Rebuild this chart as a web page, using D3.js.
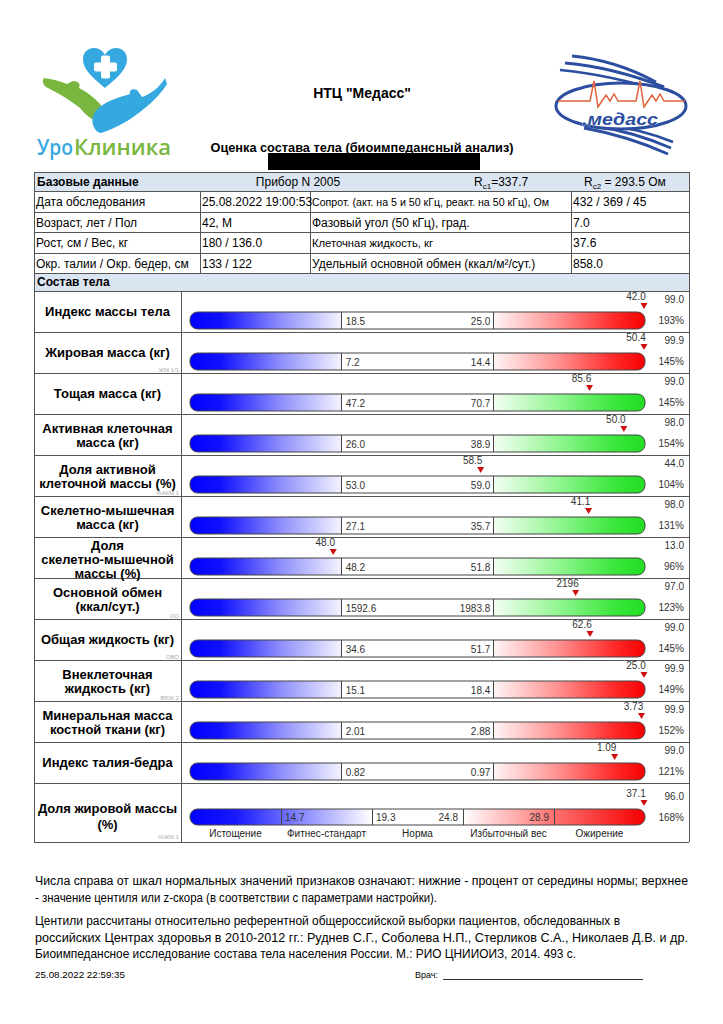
<!DOCTYPE html>
<html lang="ru"><head><meta charset="utf-8">
<script src="https://cdn.jsdelivr.net/npm/d3@7/dist/d3.min.js"></script>
<style>html,body{margin:0;padding:0;background:#fff}svg{display:block}</style>
</head><body><div id="chart"></div>
<script>
// ---------- DATA ----------
const baseLabels = ["Дата обследования","Возраст, лет / Пол","Рост, см / Вес, кг","Окр. талии / Окр. бедер, см"];
const baseValues = ["25.08.2022 19:00:53","42, М","180 / 136.0","133 / 122"];
const measLabels = ["Сопрот. (акт. на 5 и 50 кГц, реакт. на 50 кГц), Ом","Фазовый угол (50 кГц), град.","Клеточная жидкость, кг","Удельный основной обмен (ккал/м²/сут.)"];
const measValues = ["432 / 369 / 45","7.0","37.6","858.0"];
const deviceText = "Прибор N 2005";
const rc1Text = "=337.7";
const rc2Text = "= 293.5 Ом";

const rowLabels = [["Индекс массы тела"],["Жировая масса (кг)"],["Тощая масса (кг)"],["Активная клеточная","масса (кг)"],["Доля активной","клеточной массы (%)"],["Скелетно-мышечная","масса (кг)"],["Доля","скелетно-мышечной","массы (%)"],["Основной обмен","(ккал/сут.)"],["Общая жидкость (кг)"],["Внеклеточная","жидкость (кг)"],["Минеральная масса","костной ткани (кг)"],["Индекс талия-бедра"]];
const rowCodes = ["","ЖМ 1/1","","","%АКМ 1","","","ОО","ОВО","ВЮК 2","",""];
const normLow  = [18.5, 7.2, 47.2, 26.0, 53.0, 27.1, 48.2, 1592.6, 34.6, 15.1, 2.01, 0.82];
const normHigh = [25.0, 14.4, 70.7, 38.9, 59.0, 35.7, 51.8, 1983.8, 51.7, 18.4, 2.88, 0.97];
const normDecimals = [1,1,1,1,1,1,1,1,1,1,2,2];
const measured = [42.0, 50.4, 85.6, 50.0, 58.5, 41.1, 48.0, 2196, 62.6, 25.0, 3.73, 1.09];
const measuredDecimals = [1,1,1,1,1,1,1,0,1,1,2,2];
const centiles = [99.0, 99.9, 99.0, 98.0, 44.0, 98.0, 13.0, 97.0, 99.0, 99.9, 99.9, 99.0];
const percentOfMid = [193, 145, 145, 154, 104, 131, 96, 123, 145, 149, 152, 121];
const excessKind = ["red","red","green","green","green","green","green","green","red","red","red","red"];

const fatLabel = ["Доля жировой массы","(%)"];
const fatCode = "%ЖМ 1";
const fatZones = ["Истощение","Фитнес-стандарт","Норма","Избыточный вес","Ожирение"];
const fatBreaks = [14.7, 19.3, 24.8, 28.9];
const fatValue = 37.1;
const fatCentile = 96.0;
const fatPercent = 168;

const noteLines1 = ["Числа справа от шкал нормальных значений признаков означают: нижние - процент от середины нормы; верхнее","- значение центиля или z-скора (в соответствии с параметрами настройки)."];
const noteLines2 = ["Центили рассчитаны относительно референтной общероссийской выборки пациентов, обследованных в","российских Центрах здоровья в 2010-2012 гг.: Руднев С.Г., Соболева Н.П., Стерликов С.А., Николаев Д.В. и др.","Биоимпедансное исследование состава тела населения России. М.: РИО ЦНИИОИЗ, 2014. 493 с."];
const printStamp = "25.08.2022 22:59:35";

// ---------- DRAW ----------
const FONT = "'Liberation Sans', Arial, sans-serif";
const W = 723, H = 1024;
const svg = d3.select("#chart").append("svg").attr("width", W).attr("height", H)
  .style("font-family", FONT);
svg.append("rect").attr("width", W).attr("height", H).attr("fill", "#fff");
const defs = svg.append("defs");

function grad(id, stops) {
  const g = defs.append("linearGradient").attr("id", id).attr("x1", "0").attr("x2", "1").attr("y1", "0").attr("y2", "0");
  stops.forEach(s => g.append("stop").attr("offset", s[0]).attr("stop-color", s[1]));
}
grad("gBlue", [[0, "#0000ff"], [0.2, "#1010ff"], [0.6, "#8f8ffc"], [1, "#f4f4ff"]]);
grad("gred", [[0, "#fff6f6"], [0.45, "#ff8a8a"], [0.8, "#ff2a2a"], [1, "#f50000"]]);
grad("ggreen", [[0, "#f4fff4"], [0.45, "#8cf58c"], [0.8, "#3be63b"], [1, "#22dd22"]]);
grad("gFat", [[0, "#0000ff"], [0.1, "#1818ff"], [0.4, "#ffffff"], [0.6, "#ffffff"], [0.8, "#ff7070"], [1, "#f50000"]]);

function text(x, y, s, o = {}) {
  const t = svg.append("text").attr("x", x).attr("y", y).text(s)
    .attr("font-size", o.size || 12).attr("fill", o.fill || "#000")
    .attr("text-anchor", o.anchor || "start");
  if (o.bold) t.attr("font-weight", o.bold === true ? "bold" : o.bold);
  if (o.family) t.attr("font-family", o.family);
  if (o.len) t.attr("textLength", o.len).attr("lengthAdjust", "spacingAndGlyphs");
  if (o.italic) t.attr("font-style", "italic");
  return t;
}

// ----- Logo left (УроКлиника) -----
const logoL = svg.append("g");
logoL.append("path").attr("fill", "#35a8e0")
  .attr("d", "M105,88 C96,80 83,71 83,59 C83,52 88,48 94,48 C99,48 103,51 105,55 C107,51 111,48 116,48 C122,48 127,52 127,59 C127,71 114,80 105,88 Z");
logoL.append("rect").attr("x", 101).attr("y", 55.5).attr("width", 9).attr("height", 23).attr("rx", 2).attr("fill", "#fff");
logoL.append("rect").attr("x", 94).attr("y", 62.5).attr("width", 23).attr("height", 9).attr("rx", 2).attr("fill", "#fff");
logoL.append("path").attr("fill", "#78b63f")
  .attr("d", "M44,78 C52,79 60,81 67,84 L73,81 C78,81 81,84 79,88 C87,92 95,98 101,105 L99,122 C91,120 85,114 80,108 C69,99 56,92 46,87 C43,85 42,80 44,78 Z");
logoL.append("path").attr("fill", "#35a8e0")
  .attr("d", "M165,78 C160,87 151,94 142,97 L137,90 C133,88 129,90 130,94 C120,97 109,100 101,106 C94,111 91,118 93,125 C95,130 98,133 101,133 C117,128 132,119 145,108 C155,100 162,92 167,84 Z");
text(37, 155, "Уро", { size: 21, fill: "#35a8e0", family: "'Open Sans', sans-serif", bold: 600, len: 36 });
text(74, 155, "Клиника", { size: 21, fill: "#78b63f", family: "'Open Sans', sans-serif", bold: 600, len: 97 });

// ----- Logo right (Медасс) -----
const logoR = svg.append("g").attr("fill", "none");
[["M572,56 Q615,60 656,82", 2.8], ["M565,63 Q612,67 664,87", 3], ["M560,70 Q606,74 670,93", 2.6]]
  .forEach(d => logoR.append("path").attr("d", d[0]).attr("stroke", "#2b4ea0").attr("stroke-width", d[1]));
[["M584,128 Q628,136 668,154", 2.8], ["M595,126 Q634,132 671,148", 2.8], ["M606,125 Q641,129 673,142", 2.6]]
  .forEach(d => logoR.append("path").attr("d", d[0]).attr("stroke", "#2b4ea0").attr("stroke-width", d[1]));
logoR.append("ellipse").attr("cx", 621).attr("cy", 106).attr("rx", 65).attr("ry", 23)
  .attr("stroke", "#2b4ea0").attr("stroke-width", 3).attr("fill", "#fff");
const ecg = [[558,101],[590,101],[594,81],[598,107],[602,101],[606,95],[610,101],[614,94],[618,101],[636,101],[640,81],[644,107],[648,101],[652,95],[656,101],[660,94],[664,101],[685,101]];
logoR.append("path").attr("d", d3.line()(ecg)).attr("stroke", "#e0623a").attr("stroke-width", 1.5);
text(582, 125, ".медасс", { size: 17, bold: true, italic: true, fill: "#2b4ea0", len: 76 })
  .attr("stroke", "#fff").attr("stroke-width", 0.6).attr("paint-order", "stroke");

// ----- Titles -----
text(362, 98, "НТЦ \"Медасс\"", { size: 14, bold: true, anchor: "middle" });
text(362, 152, "Оценка состава тела (биоимпедансный анализ)", { size: 13, bold: true, anchor: "middle", len: 303 });
svg.append("rect").attr("x", 268).attr("y", 153).attr("width", 212).attr("height", 17).attr("fill", "#000");

// ----- Table -----
const TX0 = 34, TX1 = 689;
const cols = [34, 200, 310, 571, 689];
const tRows = [172, 191, 212, 232, 253, 273, 291];
const barTop0 = 291, rowH = 41, nRows = rowLabels.length;
const fatTop = barTop0 + nRows * rowH, fatBottom = 842;

svg.append("rect").attr("x", TX0).attr("y", 172).attr("width", TX1 - TX0).attr("height", 19).attr("fill", "#dbe5f1");
svg.append("rect").attr("x", TX0).attr("y", 273).attr("width", TX1 - TX0).attr("height", 18).attr("fill", "#dbe5f1");

const lines = svg.append("g").attr("stroke", "#555").attr("stroke-width", 1).attr("shape-rendering", "crispEdges");
const hYs = tRows.concat(d3.range(1, nRows + 1).map(i => barTop0 + i * rowH), [fatBottom]);
hYs.forEach(y => lines.append("line").attr("x1", TX0).attr("x2", TX1).attr("y1", y).attr("y2", y));
[TX0, TX1].forEach(x => lines.append("line").attr("x1", x).attr("x2", x).attr("y1", 172).attr("y2", fatBottom));
cols.slice(1, 4).forEach(x => lines.append("line").attr("x1", x).attr("x2", x).attr("y1", 191).attr("y2", 273));
lines.append("line").attr("x1", 181).attr("x2", 181).attr("y1", 291).attr("y2", fatBottom);

text(37, 186, "Базовые данные", { bold: true });
text(298, 186, deviceText, { anchor: "middle" });
const r1 = text(474, 186, "R"); r1.append("tspan").attr("font-size", 8).attr("dy", 3).text("c1"); r1.append("tspan").attr("dy", -3).text(rc1Text);
const r2 = text(584, 186, "R"); r2.append("tspan").attr("font-size", 8).attr("dy", 3).text("c2"); r2.append("tspan").attr("dy", -3).text(" " + rc2Text);

baseLabels.forEach((s, i) => {
  const y = (tRows[i + 1] + tRows[i + 2]) / 2 + 4.5;
  text(36, y, s);
  text(cols[1] + 2, y, baseValues[i]);
  const o = {};
  if (i === 0) { o.len = 237; o.size = 11.5; }
  if (i === 2) { o.len = 121; o.size = 11.5; }
  text(cols[2] + 2, y, measLabels[i], o);
  text(cols[3] + 2, y, measValues[i]);
});
text(37, 286, "Состав тела", { bold: true });

// ----- Bars -----
const BAR_X0 = 190, BAR_X1 = 645, BAR_H = 17;
const zone3 = d3.scaleBand().domain(["low", "norm", "high"]).range([BAR_X0, BAR_X1]);
const normStart = zone3("norm"), normEnd = zone3("norm") + zone3.bandwidth();
const clampX = v => Math.max(BAR_X0 + 1, Math.min(BAR_X1 - 1, v));

function marker(g, mx, by, label) {
  g.append("path").attr("d", `M${mx - 3.5},${by - 9} L${mx + 3.5},${by - 9} L${mx},${by - 3} Z`).attr("fill", "#cc1010");
  g.append("text").attr("x", mx - 8).attr("y", by - 12).attr("text-anchor", "middle")
    .attr("font-size", 10).attr("fill", "#333").text(label);
}
function rightNums(g, by, c, p) {
  g.append("text").attr("x", 684).attr("y", by - 9).attr("text-anchor", "end").attr("font-size", 10).attr("fill", "#333").text(d3.format(".1f")(c));
  g.append("text").attr("x", 684).attr("y", by + 12).attr("text-anchor", "end").attr("font-size", 10).attr("fill", "#333").text(p + "%");
}
function label(lines, cy, lh) {
  lines.forEach((s, j) => text(107.5, cy + (j - (lines.length - 1) / 2) * lh + 4.5, s, { size: 13, bold: true, anchor: "middle" }));
}
function codeText(s, y) {
  if (s) text(179, y, s, { size: 6, fill: "#aaa", anchor: "end" });
}
function barFrame(g, id, by, h) {
  defs.append("clipPath").attr("id", id).append("rect").attr("x", BAR_X0).attr("y", by)
    .attr("width", BAR_X1 - BAR_X0).attr("height", h).attr("rx", 7.5);
  return g.append("g").attr("clip-path", `url(#${id})`);
}

rowLabels.forEach((lab, i) => {
  const top = barTop0 + i * rowH;
  const by = top + 21;
  const g = svg.append("g");
  const x = d3.scaleLinear().domain([normLow[i], normHigh[i]]).range([normStart, normEnd]);
  const inner = barFrame(g, "clip" + i, by, BAR_H);
  zone3.domain().forEach(z => {
    inner.append("rect").attr("x", zone3(z)).attr("y", by).attr("width", zone3.bandwidth()).attr("height", BAR_H)
      .attr("fill", z === "low" ? "url(#gBlue)" : z === "norm" ? "#fff" : `url(#g${excessKind[i]})`);
  });
  g.append("rect").attr("x", BAR_X0).attr("y", by).attr("width", BAR_X1 - BAR_X0).attr("height", BAR_H).attr("rx", 7.5)
    .attr("fill", "none").attr("stroke", "#444").attr("stroke-width", 1);
  [normStart, normEnd].forEach(v => g.append("line").attr("x1", v).attr("x2", v).attr("y1", by).attr("y2", by + BAR_H)
    .attr("stroke", "#444").attr("shape-rendering", "crispEdges"));
  g.append("text").attr("x", normStart + 4).attr("y", by + 12.5).attr("font-size", 10).attr("fill", "#333")
    .text(d3.format("." + normDecimals[i] + "f")(normLow[i]));
  g.append("text").attr("x", normEnd - 3).attr("y", by + 12.5).attr("text-anchor", "end").attr("font-size", 10).attr("fill", "#333")
    .text(d3.format("." + normDecimals[i] + "f")(normHigh[i]));
  marker(g, clampX(x(measured[i])), by, d3.format("." + measuredDecimals[i] + "f")(measured[i]));
  rightNums(g, by, centiles[i], percentOfMid[i]);
  label(lab, lab.length === 1 ? top + 20.5 : lab.length === 2 ? top + 21 : top + 22, 14);
  codeText(rowCodes[i], top + 39.5);
});

// ----- Fat percentage row -----
{
  const top = fatTop, by = top + 26, h = 16;
  const g = svg.append("g");
  const zones = d3.scaleBand().domain(fatZones).range([BAR_X0, BAR_X1]);
  const edges = fatZones.slice(1).map(z => zones(z));
  const fx = d3.scaleLinear().domain(fatBreaks).range(edges);
  const inner = barFrame(g, "clipFat", by, h);
  inner.append("rect").attr("x", BAR_X0).attr("y", by).attr("width", BAR_X1 - BAR_X0).attr("height", h).attr("fill", "url(#gFat)");
  g.append("rect").attr("x", BAR_X0).attr("y", by).attr("width", BAR_X1 - BAR_X0).attr("height", h).attr("rx", 7.5)
    .attr("fill", "none").attr("stroke", "#444");
  edges.forEach(v => g.append("line").attr("x1", v).attr("x2", v).attr("y1", by).attr("y2", by + h)
    .attr("stroke", "#444").attr("shape-rendering", "crispEdges"));
  fatBreaks.forEach((b, k) => {
    const left = k < 2;
    g.append("text").attr("x", left ? edges[k] + 4 : edges[k] - 5).attr("y", by + 12)
      .attr("text-anchor", left ? "start" : "end").attr("font-size", 10).attr("fill", "#333").text(d3.format(".1f")(b));
  });
  fatZones.forEach(z => g.append("text").attr("x", zones(z) + zones.bandwidth() / 2).attr("y", by + 28)
    .attr("text-anchor", "middle").attr("font-size", 10).attr("fill", "#222").text(z));
  marker(g, clampX(fx(fatValue)), by, d3.format(".1f")(fatValue));
  rightNums(g, by, fatCentile, fatPercent);
  label(fatLabel, top + 33, 16);
  codeText(fatCode, top + 56);
}

// ----- Notes -----
const noteLens1 = [653, 402];
noteLines1.forEach((s, i) => text(35, 885 + i * 16.5, s, { size: 12, len: noteLens1[i] }));
const noteLens2 = [585, 653, 541];
noteLines2.forEach((s, i) => text(35, 925 + i * 16.5, s, { size: 12, len: noteLens2[i] }));
text(35, 978, printStamp, { size: 9, len: 90 });
text(415, 978, "Врач:", { size: 9 });
svg.append("line").attr("x1", 443).attr("x2", 643).attr("y1", 979.5).attr("y2", 979.5).attr("stroke", "#000").attr("stroke-width", 0.8);
</script></body></html>
